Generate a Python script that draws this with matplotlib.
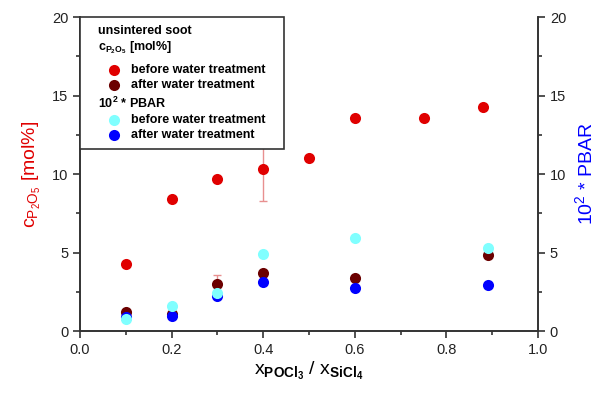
import matplotlib
matplotlib.use("Agg")
import matplotlib.pyplot as plt
from matplotlib.patches import Rectangle

plt.rcParams["font.family"] = ["Liberation Sans", "DejaVu Sans"]
plt.rcParams["mathtext.fontset"] = "custom"
plt.rcParams["mathtext.rm"] = "Liberation Sans"
plt.rcParams["mathtext.it"] = "Liberation Sans"
plt.rcParams["mathtext.bf"] = "Liberation Sans:bold"

# c_P2O5 [mol%], before water treatment
x_p_before = [0.10, 0.20, 0.30, 0.40, 0.50, 0.60, 0.75, 0.88]
p_before = [4.3, 8.4, 9.7, 10.3, 11.0, 13.6, 13.6, 14.3]
p_before_err = [0, 0, 0, 2.0, 0, 0, 0, 0]

# c_P2O5 [mol%], after water treatment
x_p_after = [0.10, 0.20, 0.30, 0.40, 0.60, 0.89]
p_after = [1.2, 1.1, 3.0, 3.7, 3.4, 4.85]
p_after_err = [0, 0, 0.55, 0, 0, 0]

# 10^2 * PBAR, before / after water treatment
x_pbar = [0.10, 0.20, 0.30, 0.40, 0.60, 0.89]
pbar_before = [0.75, 1.6, 2.4, 4.9, 5.9, 5.3]
pbar_after = [0.9, 0.95, 2.25, 3.1, 2.75, 2.9]

RED = "#e00000"
DARKRED = "#6b0000"
CYAN = "#80ffff"
BLUE = "#0000ff"
ms = 8

fig = plt.figure(figsize=(6.0, 3.96), dpi=100)
ax = fig.add_axes([0.1333, 0.1641, 0.7634, 0.7929])
ax2 = ax.twinx()

ax.errorbar(x_p_before, p_before, yerr=p_before_err, fmt="o", color=RED, ms=ms,
            mec="none", ecolor="#e89090", elinewidth=1, capsize=3, capthick=1, zorder=3)
ax.errorbar(x_p_after, p_after, yerr=p_after_err, fmt="o", color=DARKRED, ms=ms,
            mec="none", ecolor="#e89090", elinewidth=1, capsize=3, capthick=1, zorder=3)
ax.plot(x_pbar, pbar_after, "o", color=BLUE, ms=ms, mec="none", zorder=4)
ax.plot(x_pbar, pbar_before, "o", color=CYAN, ms=ms, mec="none", zorder=4)

for a in (ax, ax2):
    a.set_xlim(0, 1.0)
    a.set_ylim(0, 20)
    a.spines["top"].set_visible(False)
    for s in a.spines.values():
        s.set_color("#333333")
        s.set_linewidth(1.2)

ax.set_xticks([0, 0.2, 0.4, 0.6, 0.8, 1.0])
ax.set_xticks([0.1, 0.3, 0.5, 0.7, 0.9], minor=True)
ax.set_yticks([0, 5, 10, 15, 20])
ax.set_yticks([2.5, 7.5, 12.5, 17.5], minor=True)
ax2.set_yticks([0, 5, 10, 15, 20])
ax2.set_yticks([2.5, 7.5, 12.5, 17.5], minor=True)
for a in (ax, ax2):
    a.tick_params(which="major", length=5, width=1.2, labelsize=10.5, color="#333333",
                  labelcolor="#222222")
    a.tick_params(which="minor", length=3, width=1.2, color="#333333")
ax.set_xticklabels(["0.0", "0.2", "0.4", "0.6", "0.8", "1.0"])

ax.set_xlabel(r"$\mathregular{x}_{\mathbf{POCl_3}}\mathregular{\ /\ x}_{\mathbf{SiCl_4}}$",
              fontsize=14, labelpad=2)
ax.set_ylabel(r"$\mathregular{c_{P_2O_5}}$ [mol%]", fontsize=14, color=RED, labelpad=6)
ax2.set_ylabel(r"$\mathregular{10^2}$ * PBAR", fontsize=14, color=BLUE, labelpad=6)

# legend box drawn by hand (headers + indented entries)
lg = fig.add_axes([0.1333, 0.623, 0.34, 0.334])
lg.set_xlim(0, 1)
lg.set_ylim(0, 1)
lg.axis("off")
lg.add_patch(Rectangle((0, 0), 1, 1, transform=lg.transAxes, facecolor="white",
                       edgecolor="#333333", lw=1.2, clip_on=False))
fs = 9
hx, mx, tx = 0.09, 0.165, 0.25
rows = [
    ("head", "unsintered soot", None, 0.895),
    ("head", r"$\mathbf{c_{P_2O_5}}$ [mol%]", None, 0.77),
    ("item", "before water treatment", RED, 0.60),
    ("item", "after water treatment", DARKRED, 0.485),
    ("head", r"$\mathbf{10^2}$ * PBAR", None, 0.35),
    ("item", "before water treatment", CYAN, 0.225),
    ("item", "after water treatment", BLUE, 0.105),
]
for kind, label, col, yy in rows:
    if kind == "head":
        lg.text(hx, yy, label, fontsize=fs, fontweight="bold", va="center", ha="left")
    else:
        lg.plot([mx], [yy], "o", color=col, ms=8, mec="none")
        lg.text(tx, yy, label, fontsize=fs, fontweight="bold", va="center", ha="left")

fig.savefig("out.png", dpi=100)
